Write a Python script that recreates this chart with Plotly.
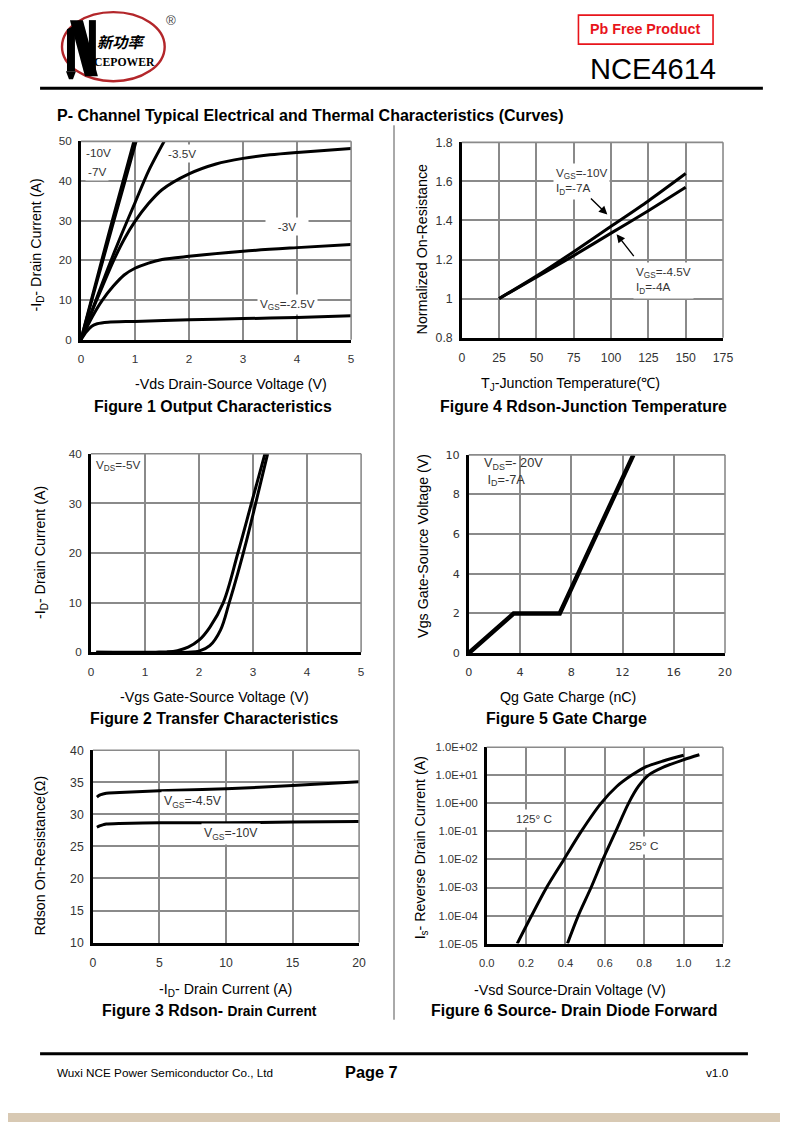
import plotly.graph_objects as go

W, H = 790, 1127
FONT = "Liberation Sans, Arial, sans-serif"

# ---------------- data ----------------
# Figure 1 Output characteristics (-Vds, -Id) per Vgs
f1_vgs10_x = [0, 0.2, 0.4, 0.6, 0.8, 0.98]
f1_vgs10_y = [0, 10.4, 20.8, 31.0, 41.0, 50]
f1_vgs7_x = [0, 0.2, 0.4, 0.6, 0.8, 1.02]
f1_vgs7_y = [0, 9.9, 19.7, 29.5, 39.2, 50]
f1_vgs45_x = [0, 0.25, 0.5, 0.75, 1.0, 1.25, 1.54]
f1_vgs45_y = [0, 9.0, 18.0, 26.5, 34.5, 42.5, 50]
f1_vgs35_x = [0, 0.2, 0.4, 0.6, 0.8, 1.0, 1.25, 1.5, 2.0, 2.5, 3.0, 3.5, 4.0, 4.5, 5.0]
f1_vgs35_y = [0, 7.0, 13.5, 19.8, 25.3, 29.8, 34.3, 37.8, 41.8, 44.3, 45.7, 46.6, 47.2, 47.7, 48.2]
f1_vgs3_x = [0, 0.2, 0.4, 0.6, 0.8, 1.0, 1.25, 1.5, 2.0, 3.0, 4.0, 5.0]
f1_vgs3_y = [0, 5.5, 10.0, 13.5, 16.3, 18.0, 19.3, 20.2, 21.0, 22.3, 23.2, 24.0]
f1_vgs25_x = [0, 0.1, 0.2, 0.3, 0.5, 1.0, 2.0, 3.0, 4.0, 5.0]
f1_vgs25_y = [0, 2.0, 3.4, 4.0, 4.4, 4.6, 5.0, 5.3, 5.6, 6.0]

# Figure 4 normalized Rdson vs Tj
f4_t = [25, 50, 75, 100, 125, 150]
f4_vgs10 = [1.0, 1.115, 1.24, 1.37, 1.50, 1.64]
f4_vgs45 = [1.0, 1.11, 1.22, 1.335, 1.45, 1.57]

# Figure 2 transfer characteristics
f2_a_x = [0.1, 1.2, 1.4, 1.6, 1.8, 2.0, 2.2, 2.45, 2.72, 2.97, 3.22]
f2_a_y = [0, 0, 0.05, 0.3, 1.0, 2.4, 5.0, 10.0, 20.0, 30.0, 40.0]
f2_b_x = [0.1, 1.8, 2.0, 2.2, 2.4, 2.56, 2.72, 2.88, 3.06, 3.27]
f2_b_y = [0, 0, 0.2, 1.3, 4.5, 10.0, 16.0, 22.5, 30.5, 40.0]

# Figure 5 gate charge
f5_qg = [0, 3.5, 7.1, 12.85]
f5_vgs = [0, 2, 2, 10]

# Figure 3 Rdson vs Id
f3_id = [0.3, 0.5, 0.8, 1, 2, 5, 10, 15, 20]
f3_vgs45 = [32.7, 33.0, 33.2, 33.3, 33.4, 33.7, 34.0, 34.5, 35.1]
f3_vgs10 = [28.0, 28.2, 28.4, 28.5, 28.6, 28.7, 28.7, 28.8, 28.9]

# Figure 6 diode forward
f6_125_v = [0.155, 0.228, 0.304, 0.392, 0.48, 0.58, 0.66, 0.735, 0.8, 0.9, 1.0]
f6_125_i = [1e-5, 1e-4, 1e-3, 1e-2, 1e-1, 1.0, 4.0, 10.0, 19.0, 33.0, 52.0]
f6_25_v = [0.41, 0.465, 0.53, 0.59, 0.655, 0.72, 0.77, 0.82, 0.9, 1.0, 1.08]
f6_25_i = [1e-5, 1e-4, 1e-3, 1e-2, 1e-1, 1.0, 4.0, 10.0, 20.0, 36.0, 54.0]
f6_ticks = [1e-5, 1e-4, 1e-3, 1e-2, 1e-1, 1e0, 1e1, 1e2]
f6_ticktext = ["1.0E-05", "1.0E-04", "1.0E-03", "1.0E-02", "1.0E-01", "1.0E+00", "1.0E+01", "1.0E+02"]

# ---------------- helpers (page pixel -> paper, compensating the viewer framing) ----------------
SX, SY = 790 / 806, 1127 / 1143
OX, OY = 8 * SX, 8 * SY

def px(x):
    return ((x - OX) / SX) / W

def py(y):
    return 1 - ((y - OY) / SY) / H

def fs(s):
    return s / SX

fig = go.Figure()

def add(x, y, n, w=3, smooth=0.8):
    fig.add_trace(go.Scatter(x=x, y=y, mode="lines",
                             line=dict(color="black", width=w, shape="spline", smoothing=smooth),
                             xaxis="x" + (str(n) if n > 1 else ""), yaxis="y" + (str(n) if n > 1 else ""),
                             showlegend=False, hoverinfo="skip"))

for xs, ys in [(f1_vgs10_x, f1_vgs10_y), (f1_vgs7_x, f1_vgs7_y), (f1_vgs45_x, f1_vgs45_y),
               (f1_vgs35_x, f1_vgs35_y), (f1_vgs3_x, f1_vgs3_y), (f1_vgs25_x, f1_vgs25_y)]:
    add(xs, ys, 1)
add(f4_t, f4_vgs10, 2)
add(f4_t, f4_vgs45, 2)
add(f2_a_x, f2_a_y, 3, smooth=1.0)
add(f2_b_x, f2_b_y, 3, smooth=1.0)
fig.add_trace(go.Scatter(x=f5_qg, y=f5_vgs, mode="lines", line=dict(color="black", width=4.5),
                         xaxis="x4", yaxis="y4", showlegend=False, hoverinfo="skip"))
add(f3_id, f3_vgs45, 5)
add(f3_id, f3_vgs10, 5)
add(f6_125_v, f6_125_i, 6)
add(f6_25_v, f6_25_i, 6)

# plot areas in page pixels: (x0, x1, ytop, ybottom)
areas = {
    1: (81, 352, 142, 340),
    2: (463, 725, 143, 338),
    3: (91, 362, 454, 652),
    4: (470, 727, 455, 653),
    5: (93, 360, 750, 942),
    6: (488, 725, 747, 943),
}

GRID = "#8a8a8a"

def tf(size, family=FONT):
    return dict(family=family, size=fs(size), color="#333333")

def axis_common():
    return dict(showgrid=True, gridcolor=GRID, gridwidth=1.6, zeroline=False,
                showline=True, linecolor="black", linewidth=2.5, mirror=False,
                ticks="outside", ticklen=7, tickcolor="rgba(0,0,0,0)", tickfont=tf(11.5))

layout = dict(width=W, height=H, margin=dict(l=0, r=0, t=0, b=0),
              paper_bgcolor="white", plot_bgcolor="white", showlegend=False)

specs = {
    1: dict(x=dict(range=[0, 5], dtick=1), y=dict(range=[0, 50], dtick=10)),
    2: dict(x=dict(range=[0, 175], dtick=25, tickfont=tf(12)),
            y=dict(range=[0.8, 1.8], tickvals=[0.8, 1.0, 1.2, 1.4, 1.6, 1.8],
                   ticktext=["0.8", "1", "1.2", "1.4", "1.6", "1.8"], tickfont=tf(12))),
    3: dict(x=dict(range=[0, 5], dtick=1), y=dict(range=[0, 40], dtick=10)),
    4: dict(x=dict(range=[0, 20], dtick=4, tickfont=tf(11, "DejaVu Sans")),
            y=dict(range=[0, 10], dtick=2, tickfont=tf(11, "DejaVu Sans"))),
    5: dict(x=dict(range=[0, 20], dtick=5, tickfont=tf(12)),
            y=dict(range=[10, 40], dtick=5, tickfont=tf(12))),
    6: dict(x=dict(range=[0, 1.2], tickvals=[0, 0.2, 0.4, 0.6, 0.8, 1.0, 1.2],
                   ticktext=["0.0", "0.2", "0.4", "0.6", "0.8", "1.0", "1.2"], tickfont=tf(11)),
            y=dict(type="log", range=[-5, 2], tickvals=f6_ticks, ticktext=f6_ticktext,
                   tickfont=tf(11))),
}

for n, (x0, x1, yt, yb) in areas.items():
    sfx = str(n) if n > 1 else ""
    xa = axis_common()
    xa.update(domain=[px(x0), px(x1)], anchor="y" + sfx)
    xa.update(specs[n]["x"])
    ya = axis_common()
    ya.update(domain=[py(yb), py(yt)], anchor="x" + sfx, ticklen=4)
    ya.update(specs[n]["y"])
    layout["xaxis" + sfx] = xa
    layout["yaxis" + sfx] = ya

fig.update_layout(**layout)

# frame top/right gray edges
shapes = []
for n, (x0, x1, yt, yb) in areas.items():
    shapes.append(dict(type="line", xref="paper", yref="paper", x0=px(x0), x1=px(x1), y0=py(yt), y1=py(yt),
                       line=dict(color=GRID, width=1.6)))
    shapes.append(dict(type="line", xref="paper", yref="paper", x0=px(x1), x1=px(x1), y0=py(yt), y1=py(yb),
                       line=dict(color=GRID, width=1.6)))

def path(points, color="black"):
    d = "M " + " L ".join(f"{px(a):.5f},{py(b):.5f}" for a, b in points) + " Z"
    return dict(type="path", xref="paper", yref="paper", path=d, fillcolor=color, line=dict(width=0))

# page decorations
shapes += [
    dict(type="circle", xref="paper", yref="paper", x0=px(62), x1=px(165), y0=py(82), y1=py(13),
         line=dict(color="#b3262a", width=2.4)),
    # stylised "N" of the logo
    path([(67, 30), (75, 26), (75, 72), (67, 72)]),
    path([(70, 21), (83, 21), (98, 77), (85, 77)]),
    path([(89, 21), (96, 21), (96, 74), (89, 74)]),
    path([(66, 72), (76, 72), (73, 80), (69, 80)]),
    dict(type="rect", xref="paper", yref="paper", x0=px(580), x1=px(715), y0=py(45), y1=py(16),
         line=dict(color="#e8141b", width=1.6), fillcolor="white"),
    dict(type="line", xref="paper", yref="paper", x0=px(40), x1=px(765), y0=py(89), y1=py(89),
         line=dict(color="black", width=3)),
    dict(type="line", xref="paper", yref="paper", x0=px(395), x1=px(395), y0=py(126), y1=py(1019),
         line=dict(color="#555", width=1)),
    dict(type="line", xref="paper", yref="paper", x0=px(40), x1=px(750), y0=py(1053), y1=py(1053),
         line=dict(color="black", width=3)),
    dict(type="rect", xref="paper", yref="paper", x0=0, x1=1, y0=py(1121), y1=py(1112),
         line=dict(width=0), fillcolor="#d8c9b3"),
]
fig.update_layout(shapes=shapes)

ann = []

def ptext(x, y, text, size=13, color="black", xanchor="center", bold=False, family=FONT, angle=0, **kw):
    if bold:
        text = "<b>" + text + "</b>"
    ann.append(dict(xref="paper", yref="paper", x=px(x), y=py(y), text=text, showarrow=False,
                    xanchor=xanchor, yanchor="middle", textangle=angle,
                    font=dict(family=family, size=fs(size), color=color), **kw))

# header
ptext(122, 42, "<i>新功率</i>", size=15, bold=True, family="Noto Sans CJK SC")
ptext(125, 63, "CEPOWER", size=11.5, bold=True, family="Liberation Serif, serif")
ptext(171, 21, "®", size=13, color="#444")
ptext(647, 30, "Pb Free Product", size=14, color="#e8141b", bold=True)
ptext(655, 70, "NCE4614", size=28.5, color="black")
ptext(55, 116, "P- Channel Typical Electrical and Thermal Characteristics (Curves)", size=15.7, bold=True,
      xanchor="left")

# footer
ptext(55, 1072, "Wuxi NCE Power Semiconductor Co., Ltd", size=11.5, xanchor="left")
ptext(372, 1071, "Page 7", size=16, bold=True)
ptext(719, 1072, "v1.0", size=11.5)

# axis titles and figure titles
ptext(232, 384, "-Vds Drain-Source Voltage (V)", size=14)
ptext(213, 407, "Figure 1 Output Characteristics", size=15.6, bold=True)
ptext(37, 246, "-I<sub>D</sub>- Drain Current (A)", size=14, angle=-90)

ptext(572, 384, "T<sub>J</sub>-Junction Temperature(℃)", size=14)
ptext(585, 407, "Figure 4 Rdson-Junction Temperature", size=15.6, bold=True)
ptext(424, 249, "Normalized On-Resistance", size=14, angle=-90)

ptext(215, 697, "-Vgs Gate-Source Voltage (V)", size=14)
ptext(215, 718, "Figure 2 Transfer Characteristics", size=15.6, bold=True)
ptext(41, 553, "-I<sub>D</sub>- Drain Current (A)", size=14, angle=-90)

ptext(570, 697, "Qg Gate Charge (nC)", size=14)
ptext(568, 718, "Figure 5 Gate Charge", size=15.6, bold=True)
ptext(424, 546, "Vgs Gate-Source Voltage (V)", size=14, angle=-90)

ptext(226, 989, "-I<sub>D</sub>- Drain Current (A)", size=14)
ptext(210, 1010, "<b>Figure 3 Rdson- <span style='font-size:%.1fpx'>Drain Current</span></b>" % fs(13.5),
      size=15.6)
ptext(40, 855, "Rdson On-Resistance(Ω)", size=14, angle=-90)

ptext(572, 989, "-Vsd Source-Drain Voltage (V)", size=14)
ptext(576, 1010, "Figure 6 Source- Drain Diode Forward", size=15.6, bold=True)
ptext(423, 847, "I<sub>s</sub>- Reverse Drain Current (A)", size=14, angle=-90)

# data labels
def dtext(n, x, y, text, size=11.5, bg="white", xanchor="center", **kw):
    sfx = str(n) if n > 1 else ""
    ann.append(dict(xref="x" + sfx, yref="y" + sfx, x=x, y=y, text=text, showarrow=False,
                    xanchor=xanchor, yanchor="middle", bgcolor=bg, borderpad=2,
                    font=dict(family=FONT, size=fs(size), color="#333"), **kw))

dtext(1, 0.33, 47.2, "-10V")
dtext(1, 0.30, 42.4, "-7V")
dtext(1, 1.87, 47.0, "-3.5V")
dtext(1, 3.82, 28.5, "&nbsp;&nbsp;&nbsp;-3V&nbsp;&nbsp;&nbsp;")
dtext(1, 3.82, 8.9, "V<sub>GS</sub>=-2.5V")

dtext(2, 80, 1.6, "V<sub>GS</sub>=-10V<br>I<sub>D</sub>=-7A", align="left")
dtext(2, 135, 1.095, "V<sub>GS</sub>=-4.5V<br>I<sub>D</sub>=-4A", align="left")
for (hx, hy, tx, ty) in [(97.5, 1.43, 85.5, 1.52), (103.7, 1.33, 116, 1.21)]:
    ann.append(dict(xref="x2", yref="y2", axref="x2", ayref="y2", x=hx, y=hy, ax=tx, ay=ty, text="",
                    showarrow=True, arrowhead=2, arrowsize=1.2, arrowwidth=1.4, arrowcolor="black"))

dtext(3, 0.5, 37.6, "V<sub>DS</sub>=-5V")

dtext(4, 3.5, 9.15, "V<sub>DS</sub>=- 20V<br>&nbsp;I<sub>D</sub>=-7A", bg="rgba(0,0,0,0)", align="left",
      size=12.5)

dtext(5, 7.55, 32.0, "V<sub>GS</sub>=-4.5V", size=12)
dtext(5, 10.4, 27.0, "V<sub>GS</sub>=-10V", size=12)

dtext(6, 0.24, -0.55, "125° C")
dtext(6, 0.8, -1.5, "25° C")

fig.update_layout(annotations=ann)
fig.write_html("out.html", config={"displayModeBar": False},
               post_script="document.body.style.margin='0';document.body.style.padding='0';"
                           "document.documentElement.style.overflow='hidden';")
